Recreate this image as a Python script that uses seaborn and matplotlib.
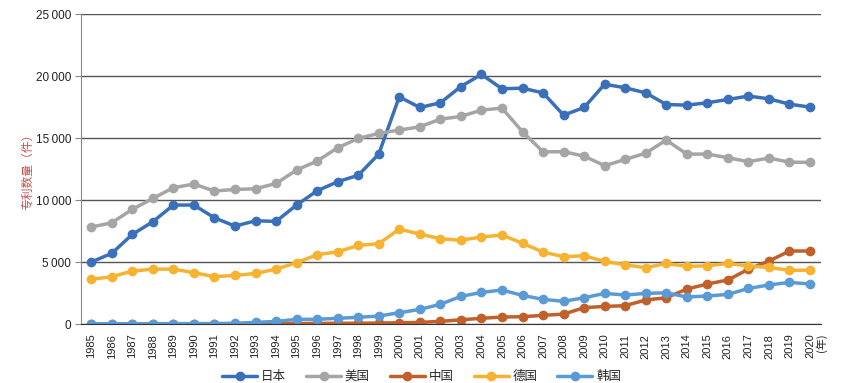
import pandas as pd
import matplotlib.pyplot as plt
import seaborn as sns
import numpy as np

# --- data ---
years = list(range(1985, 2021))
countries = ["日本", "美国", "中国", "德国", "韩国"]

japan = [5000, 5700, 7230, 8250, 9600, 9600, 8570, 7900, 8330, 8280,
         9600, 10750, 11480, 12000, 13710, 18330, 17470, 17850, 19160, 20140,
         18980, 19030, 18650, 16850, 17470, 19350, 19060, 18650, 17710, 17660,
         17850, 18120, 18390, 18170, 17740, 17500]
usa = [7820, 8170, 9250, 10130, 11000, 11290, 10730, 10860, 10910, 11340,
       12420, 13150, 14220, 14970, 15380, 15650, 15910, 16530, 16750, 17260,
       17420, 15510, 13900, 13900, 13550, 12770, 13280, 13790, 14840, 13710,
       13710, 13420, 13100, 13390, 13060, 13040]
china = [10, 10, 10, 15, 15, 20, 20, 25, 30, 35,
         40, 50, 60, 60, 80, 100, 130, 215, 340, 460,
         565, 590, 700, 800, 1320, 1420, 1480, 1940, 2120, 2820,
         3230, 3550, 4430, 5080, 5890, 5890]
germany = [3600, 3820, 4270, 4430, 4430, 4140, 3820, 3920, 4080, 4430,
           4950, 5590, 5830, 6340, 6480, 7660, 7260, 6880, 6760, 7020,
           7180, 6510, 5810, 5430, 5510, 5050, 4780, 4540, 4890, 4650,
           4700, 4890, 4680, 4570, 4330, 4350]
korea = [20, 20, 25, 25, 30, 30, 40, 60, 130, 210,
         380, 380, 460, 540, 645, 910, 1180, 1590, 2230, 2550,
         2740, 2310, 1990, 1830, 2120, 2470, 2340, 2470, 2520, 2180,
         2260, 2390, 2870, 3150, 3360, 3230]

colors = {"日本": "#3a6fb9", "美国": "#a5a5a5", "中国": "#c0602a",
          "德国": "#f5b331", "韩国": "#5b9bd5"}

df = pd.DataFrame({"年份": years * 5,
                   "国家": np.repeat(countries, len(years)),
                   "数量": japan + usa + china + germany + korea})

# --- plot ---
sns.set_style("white")
plt.rcParams["font.family"] = ["Liberation Sans", "Noto Sans CJK SC", "DejaVu Sans"]
plt.rcParams["axes.unicode_minus"] = False

fig = plt.figure(figsize=(8.52, 3.83), dpi=100)
ax = fig.add_axes([0.095, 0.154, 0.869, 0.809])

for c in countries:
    sns.lineplot(data=df[df["国家"] == c], x="年份", y="数量", color=colors[c],
                 marker="o", markersize=7, markeredgewidth=0, linewidth=2.5,
                 label=c, ax=ax, legend=False)

ax.set_xlim(1984.5, 2020.55)
ax.set_ylim(0, 25000)
ax.set_yticks(range(0, 25001, 5000))
ax.set_yticklabels([f"{v:,}".replace(",", "\u2009") for v in range(0, 25001, 5000)],
                   fontsize=8.5, color="#222222")
ax.set_xticks(years)
ax.set_xticklabels([str(y) for y in years], rotation=90, fontsize=8, color="#222222")
ax.tick_params(axis="x", length=0, pad=7)
ax.tick_params(axis="y", length=4, width=0.8, color="#888888", pad=3, direction="out",
               left=True)

ax.grid(axis="y", color="#555555", linewidth=1)
ax.set_axisbelow(True)
for s in ["top", "right"]:
    ax.spines[s].set_visible(False)
ax.spines["left"].set_color("#888888")
ax.spines["bottom"].set_color("#333333")
ax.set_xlabel("")
ax.set_ylabel("专利数量（件）", color="#c0504d", fontsize=8.5)
ax.yaxis.set_label_coords(-0.063, 0.5)

# unit label next to the last year
ax.annotate("(年)", xy=(2020.5, 0), xytext=(1, -7), textcoords="offset points",
            rotation=90, ha="center", va="top", fontsize=8, color="#222222",
            family=["Noto Sans CJK SC", "DejaVu Sans"], annotation_clip=False)

handles = [plt.Line2D([], [], color=colors[c], marker="o", markersize=7,
                      markeredgewidth=0, linewidth=2.5) for c in countries]
fig.legend(handles, countries, loc="lower center", bbox_to_anchor=(0.495, -0.03),
           ncol=5, frameon=False, fontsize=9, handlelength=2.8, columnspacing=1.6,
           handletextpad=0.3)

plt.savefig("out.png", dpi=100)
